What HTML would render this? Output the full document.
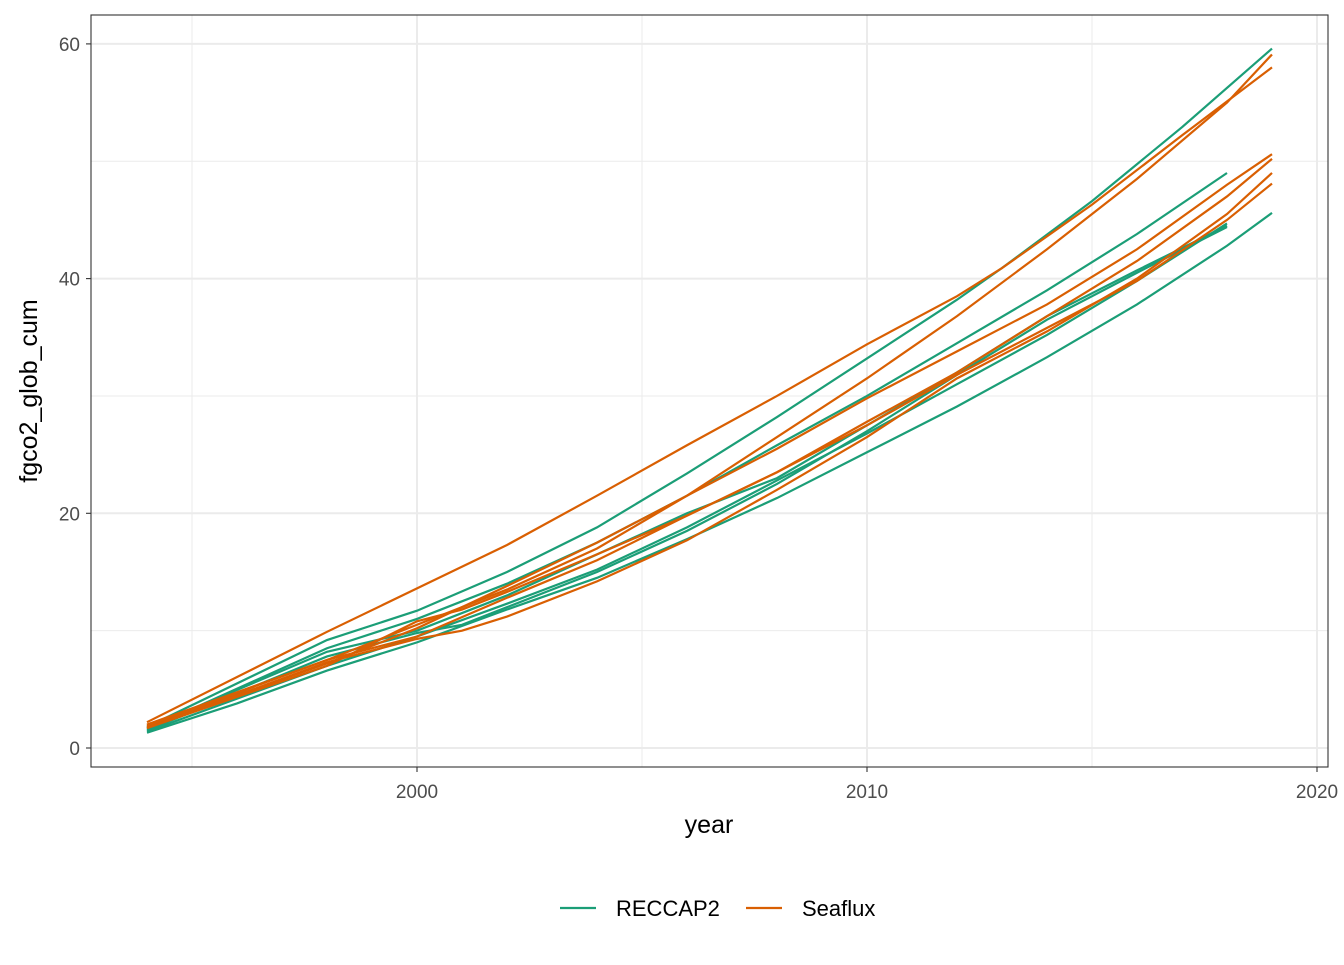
<!DOCTYPE html>
<html><head><meta charset="utf-8"><style>
body{margin:0;background:#fff;font-family:"Liberation Sans",Arial,sans-serif;}
svg text{font-family:"Liberation Sans",Arial,sans-serif;}
</style></head><body>
<svg id="chart" width="1344" height="960"></svg>
<script>
const ticksX=[2000,2010,2020];
const minorX=[1995,2005,2015];
const ticksY=[0,20,40,60];
const minorY=[10,30,50];
const seriesNames=["RECCAP2","Seaflux"];
const colors={"RECCAP2":"#1b9e77","Seaflux":"#d95f02"};
const g1=[[1994,1.8],[1998,9.2],[2000,11.7],[2002,15],[2004,18.8],[2006,23.4],[2008,28.2],[2010,33.2],[2012,38.2],[2013,40.9],[2015,46.6],[2017,52.9],[2019,59.6]];
const g2=[[1994,1.6],[1998,8.5],[2000,11],[2002,14],[2004,17.5],[2006,21.5],[2008,25.8],[2010,30],[2012,34.5],[2014,39],[2016,43.8],[2018,49]];
const g3=[[1994,1.3],[1996,3.8],[1998,6.6],[2000,9],[2002,11.8],[2004,14.5],[2006,17.8],[2008,21.3],[2010,25.2],[2012,29.1],[2014,33.3],[2016,37.8],[2018,42.8],[2019,45.6]];
const g4=[[1994,1.4],[1998,7],[2000,9.5],[2002,12.3],[2004,15.2],[2006,18.8],[2008,22.8],[2010,26.8],[2012,31],[2014,35.2],[2016,39.8],[2018,44.7]];
const g5=[[1994,1.5],[1998,7.8],[2000,9.8],[2001,10.5],[2002,12],[2004,15],[2006,18.5],[2008,22.5],[2010,27],[2012,31.8],[2014,36.5],[2016,40.5],[2018,44.4]];
const g6=[[1994,1.7],[1998,8.2],[2000,10],[2002,13],[2004,16.5],[2006,20],[2008,23],[2010,27.5],[2012,32],[2014,36.8],[2016,40.7],[2018,44.5]];
const o1=[[1994,2.2],[1998,9.9],[2000,13.6],[2002,17.3],[2004,21.5],[2006,25.8],[2008,30],[2010,34.4],[2012,38.5],[2013,40.9],[2015,46.3],[2017,52.2],[2019,58.0]];
const o2=[[1994,2],[1998,7.5],[2000,10.5],[2002,13.5],[2004,17],[2006,21.5],[2008,26.5],[2010,31.5],[2012,36.8],[2014,42.5],[2016,48.5],[2018,55],[2019,59.1]];
const o3=[[1994,1.8],[1998,7.2],[2000,10.2],[2002,13.8],[2004,17.5],[2006,21.5],[2008,25.5],[2010,29.8],[2012,33.8],[2014,37.8],[2016,42.5],[2018,48],[2019,50.6]];
const o4=[[1994,1.7],[1998,7],[2000,10.8],[2001,11.8],[2002,13.3],[2004,16.5],[2006,19.8],[2008,23.5],[2010,27.8],[2012,32],[2014,36.8],[2016,41.5],[2018,47],[2019,50.2]];
const o5=[[1994,1.7],[1998,7.3],[2000,9.3],[2001,10],[2002,11.2],[2004,14.2],[2006,17.7],[2008,22],[2010,26.5],[2012,31.5],[2014,35.5],[2016,40],[2018,45.5],[2019,49]];
const o6=[[1994,1.9],[1998,7.5],[2000,9.5],[2002,12.8],[2004,16],[2006,19.8],[2008,23.5],[2010,27.5],[2012,31.8],[2014,35.8],[2016,39.8],[2018,45],[2019,48.1]];
const recLines=[g1,g2,g3,g4,g5,g6];
const seaLines=[o1,o2,o3,o4,o5,o6];

const NS="http://www.w3.org/2000/svg";
const svg=document.getElementById('chart');
const P={l:91,r:1328,t:15,b:767};
const xs=v=>417+(v-2000)*45;
const ys=v=>748-v*11.735;
function el(t,a,p){const e=document.createElementNS(NS,t);for(const k in a)e.setAttribute(k,a[k]);(p||svg).appendChild(e);return e;}
const grid=el('g',{});


minorX.forEach(v=>el('line',{x1:xs(v),x2:xs(v),y1:P.t,y2:P.b,stroke:'#ebebeb','stroke-width':1},grid));
minorY.forEach(v=>el('line',{x1:P.l,x2:P.r,y1:ys(v),y2:ys(v),stroke:'#ebebeb','stroke-width':1},grid));
ticksX.forEach(v=>el('line',{x1:xs(v),x2:xs(v),y1:P.t,y2:P.b,stroke:'#ebebeb','stroke-width':2},grid));
ticksY.forEach(v=>el('line',{x1:P.l,x2:P.r,y1:ys(v),y2:ys(v),stroke:'#ebebeb','stroke-width':2},grid));
function draw(lines,name){
  const g=el('g',{});
  
  
  lines.forEach(L=>{
    const p=el('polyline',{points:L.map(d=>xs(d[0])+','+ys(d[1])).join(' '),fill:'none',stroke:colors[name],'stroke-width':2.2},g);
    
    
  });
}
draw(recLines,"RECCAP2");
draw(seaLines,"Seaflux");
const fr=el('rect',{x:P.l,y:P.t,width:P.r-P.l,height:P.b-P.t,fill:'none',stroke:'#333','stroke-width':1.1});


ticksX.forEach(v=>{
  el('line',{x1:xs(v),x2:xs(v),y1:P.b,y2:P.b+5,stroke:'#333','stroke-width':1.1});
  const t=el('text',{x:xs(v),y:798,'text-anchor':'middle','font-size':19,fill:'#4d4d4d'});t.textContent=v;
  
  
});
ticksY.forEach(v=>{
  el('line',{x1:P.l-5,x2:P.l,y1:ys(v),y2:ys(v),stroke:'#333','stroke-width':1.1});
  const t=el('text',{x:P.l-11,y:ys(v)+7,'text-anchor':'end','font-size':19,fill:'#4d4d4d'});t.textContent=v;
  
  
});
const xt=el('text',{x:709,y:833,'text-anchor':'middle','font-size':25,fill:'#000'});xt.textContent='year';


const yt=el('text',{x:37,y:391,'text-anchor':'middle','font-size':25,fill:'#000',transform:'rotate(-90 37 391)'});yt.textContent='fgco2_glob_cum';


const lg=el('g',{});


[[560,616],[746,802]].forEach((p,i)=>{
  const n=seriesNames[i];
  const e=el('g',{},lg);
  
  
  el('line',{x1:p[0],x2:p[0]+36,y1:908,y2:908,stroke:colors[n],'stroke-width':2.2},e);
  const t=el('text',{x:p[1],y:916,'font-size':22,fill:'#000'},e);t.textContent=n;
});
</script>
</body></html>
